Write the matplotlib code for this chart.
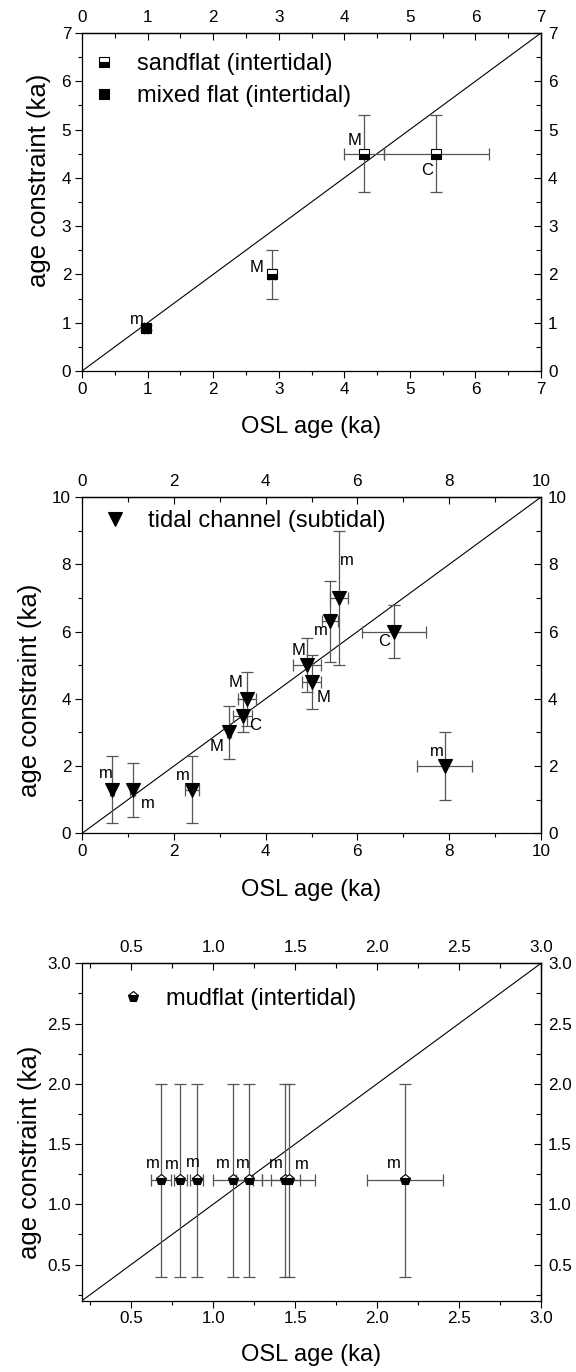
import matplotlib
matplotlib.use('Agg')
import matplotlib.pyplot as plt
from matplotlib.ticker import MultipleLocator, FormatStrFormatter
from matplotlib.lines import Line2D

plt.rcParams['font.family'] = ['Liberation Sans', 'DejaVu Sans']

# ---------------- data ----------------
# panel 1
sand_x = [4.3, 5.4, 2.9]
sand_y = [4.5, 4.5, 2.0]
sand_xerr = [0.3, 0.8, 0.05]
sand_yerr = [0.8, 0.8, 0.5]
sand_lab = ['M', 'C', 'M']
sand_off = [(-6.5, 9.4), (-6.7, -12), (-11, 5)]

mixed_x = [0.97]
mixed_y = [0.9]
mixed_xerr = [0.03]
mixed_yerr = [0.05]
mixed_lab = ['m']
mixed_off = [(-6.5, 5.5)]

# panel 2
tc_x = [0.65, 1.1, 2.4, 3.2, 3.5, 3.6, 4.9, 5.0, 5.4, 5.6, 6.8, 7.9]
tc_y = [1.3, 1.3, 1.3, 3.0, 3.5, 4.0, 5.0, 4.5, 6.3, 7.0, 6.0, 2.0]
tc_xerr = [0.05, 0.05, 0.15, 0.05, 0.2, 0.2, 0.3, 0.2, 0.17, 0.2, 0.7, 0.6]
tc_yerr = [1.0, 0.8, 1.0, 0.8, 0.5, 0.8, 0.8, 0.8, 1.2, 2.0, 0.8, 1.0]
tc_lab = ['m', 'm', 'm', 'M', 'C', 'M', 'M', 'M', 'm', 'm', 'C', 'm']
tc_off = [(-4, 11.3), (11, -10), (-7, 10), (-9, -10), (9, -7), (-8.4, 12),
          (-6, 10.8), (8.6, -11.3), (-6.7, -6.7), (5.3, 26.9), (-7.2, -7.2),
          (-5.8, 10.8)]

# panel 3
mud_x = [0.68, 0.80, 0.90, 1.12, 1.22, 1.44, 1.46, 2.17]
mud_y = [1.2, 1.2, 1.2, 1.2, 1.2, 1.2, 1.2, 1.2]
mud_xerr = [0.06, 0.04, 0.04, 0.12, 0.08, 0.09, 0.16, 0.23]
mud_yerr = [0.8, 0.8, 0.8, 0.8, 0.8, 0.8, 0.8, 0.8]
mud_lab = ['m', 'm', 'm', 'm', 'm', 'm', 'm', 'm']
mud_off = [(-5.8, 12), (-6, 11.3), (-3.1, 12.7), (-7, 12), (-4.8, 12),
           (-6.5, 12), (9.6, 11.3), (-7.9, 12)]

XLABEL = 'OSL age (ka)'
YLABEL = 'age constraint (ka)'

ECOL = '#555555'

fig = plt.figure(figsize=(5.76, 13.72), dpi=100)

L, W = 0.1424, 0.7969
ax1 = fig.add_axes([L, 0.7296, W, 0.2464])
ax2 = fig.add_axes([L, 0.3926, W, 0.2451])
ax3 = fig.add_axes([L, 0.0520, W, 0.2459])


def style_axes(ax, lim, major, minor, fmt, ylab_x, ylab_y, xlab_y):
    ax.set_xlim(*lim)
    ax.set_ylim(*lim)
    for axis in (ax.xaxis, ax.yaxis):
        axis.set_major_locator(MultipleLocator(major))
        axis.set_minor_locator(MultipleLocator(minor))
        axis.set_major_formatter(FormatStrFormatter(fmt))
    ax.tick_params(which='both', direction='out', labelsize=12.3, width=0.8,
                   pad=3, color='black')
    ax.tick_params(which='major', length=4.8)
    ax.tick_params(which='minor', length=3.1)
    for s in ax.spines.values():
        s.set_linewidth(0.9)
    top = ax.secondary_xaxis('top')
    top.xaxis.set_major_locator(MultipleLocator(major))
    top.xaxis.set_minor_locator(MultipleLocator(minor))
    top.xaxis.set_major_formatter(FormatStrFormatter(fmt))
    top.tick_params(which='both', direction='in', labelsize=12.3, width=0.8, pad=6)
    top.tick_params(which='major', length=5)
    top.tick_params(which='minor', length=3.3)
    right = ax.secondary_yaxis('right')
    right.yaxis.set_major_locator(MultipleLocator(major))
    right.yaxis.set_minor_locator(MultipleLocator(minor))
    right.yaxis.set_major_formatter(FormatStrFormatter(fmt))
    right.tick_params(which='both', direction='in', labelsize=12.3, width=0.8, pad=5)
    right.tick_params(which='major', length=5)
    right.tick_params(which='minor', length=3.3)
    for sec in (top, right):
        for s in sec.spines.values():
            s.set_linewidth(0.9)
    ax.axline((lim[0], lim[0]), slope=1, color='black', lw=0.8, zorder=1)
    ax.set_xlabel(XLABEL, fontsize=17)
    ax.set_ylabel(YLABEL, fontsize=18.5)
    ax.xaxis.set_label_coords(0.5, xlab_y)
    ax.xaxis.label.set_verticalalignment('center')
    ax.yaxis.set_label_coords(ylab_x, ylab_y)
    ax.yaxis.label.set_verticalalignment('center')


def series(ax, x, y, xerr, yerr, labels, offs, mk):
    ax.errorbar(x, y, xerr=xerr, yerr=yerr, fmt='none', ecolor=ECOL,
                elinewidth=0.9, capsize=4, capthick=0.9, zorder=2)
    ax.plot(x, y, ls='none', zorder=3, **mk)
    for xi, yi, lab, (dx, dy) in zip(x, y, labels, offs):
        ax.annotate(lab, (xi, yi), xytext=(dx, dy), textcoords='offset points',
                    ha='center', va='center', fontsize=12, zorder=4)


mk_sand = dict(marker='s', ms=7.5, mfc='black', mfcalt='white',
               fillstyle='bottom', mec='black', mew=0.8)
mk_mixed = dict(marker='s', ms=7.5, mfc='black', mec='black', mew=0.8)
mk_tc = dict(marker='v', ms=9.5, mfc='black', mec='black', mew=0.8)
mk_mud = dict(marker='p', ms=8, mfc='black', mfcalt='white',
              fillstyle='bottom', mec='black', mew=0.8)

# panel 1
style_axes(ax1, (0, 7), 1, 0.5, '%d', -0.094, 0.563, -0.1666)
series(ax1, sand_x, sand_y, sand_xerr, sand_yerr, sand_lab, sand_off, mk_sand)
series(ax1, mixed_x, mixed_y, mixed_xerr, mixed_yerr, mixed_lab, mixed_off, mk_mixed)
h1 = [Line2D([], [], ls='none', **mk_sand), Line2D([], [], ls='none', **mk_mixed)]
ax1.legend(h1, ['sandflat (intertidal)', 'mixed flat (intertidal)'],
           loc='upper left', bbox_to_anchor=(0.0222, 0.941), borderaxespad=0,
           borderpad=0, frameon=False, fontsize=17, handlelength=1.0,
           handletextpad=0.9, labelspacing=0.42)

# panel 2
style_axes(ax2, (0, 10), 2, 1, '%d', -0.113, 0.424, -0.1686)
series(ax2, tc_x, tc_y, tc_xerr, tc_yerr, tc_lab, tc_off, mk_tc)
h2 = [Line2D([], [], ls='none', **mk_tc)]
ax2.legend(h2, ['tidal channel (subtidal)'],
           loc='upper left', bbox_to_anchor=(0.046, 0.961), borderaxespad=0,
           borderpad=0, frameon=False, fontsize=17, handlelength=1.0,
           handletextpad=0.9)

# panel 3
style_axes(ax3, (0.2, 3.0), 0.5, 0.25, '%.1f', -0.113, 0.44, -0.161)
series(ax3, mud_x, mud_y, mud_xerr, mud_yerr, mud_lab, mud_off, mk_mud)
h3 = [Line2D([], [], ls='none', **mk_mud)]
ax3.legend(h3, ['mudflat (intertidal)'],
           loc='upper left', bbox_to_anchor=(0.0848, 0.926), borderaxespad=0,
           borderpad=0, frameon=False, fontsize=17, handlelength=1.0,
           handletextpad=0.9)

fig.savefig('out.png', dpi=100)
